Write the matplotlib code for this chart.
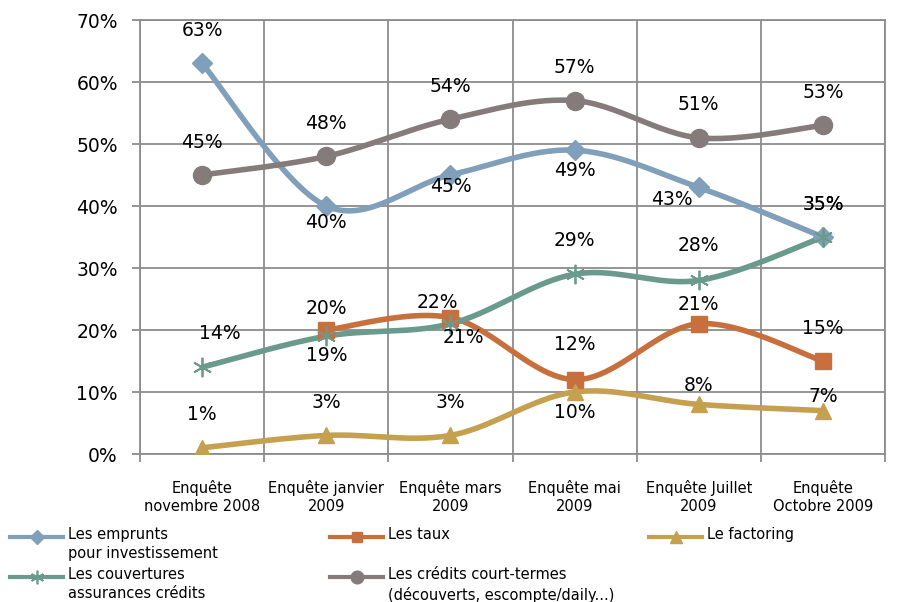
import numpy as np
import matplotlib
matplotlib.use('Agg')
import matplotlib.pyplot as plt
from matplotlib.lines import Line2D

categories = ['Enquête\nnovembre 2008', 'Enquête janvier\n2009', 'Enquête mars\n2009',
              'Enquête mai\n2009', 'Enquête Juillet\n2009', 'Enquête\nOctobre 2009']
emprunts = [0.63, 0.40, 0.45, 0.49, 0.43, 0.35]
taux = [None, 0.20, 0.22, 0.12, 0.21, 0.15]
factoring = [0.01, 0.03, 0.03, 0.10, 0.08, 0.07]
couvertures = [0.14, 0.19, 0.21, 0.29, 0.28, 0.35]
credits = [0.45, 0.48, 0.54, 0.57, 0.51, 0.53]
yticks = [0, 0.1, 0.2, 0.3, 0.4, 0.5, 0.6, 0.7]

grid_c = '#8c8c8c'
c_emp = '#7f9fba'
c_taux = '#c8703d'
c_fact = '#c4a04f'
c_couv = '#6a9a8b'
c_cred = '#857b7a'

W, H = 897, 602


def smooth(xs, ys, n=30):
    # excel-like smoothing: bezier segments with catmull-rom control points
    xs = np.asarray(xs, float)
    ys = np.asarray(ys, float)
    P = np.column_stack([xs, ys])
    out = [P[0]]
    t = np.linspace(0, 1, n)[1:, None]
    for i in range(len(P) - 1):
        p0 = P[i - 1] if i > 0 else P[i]
        p3 = P[i + 2] if i + 2 < len(P) else P[i + 1]
        c1 = P[i] + (P[i + 1] - p0) / 6
        c2 = P[i + 1] - (p3 - P[i]) / 6
        seg = ((1 - t) ** 3) * P[i] + 3 * ((1 - t) ** 2) * t * c1 + 3 * (1 - t) * t ** 2 * c2 + t ** 3 * P[i + 1]
        out.extend(seg)
    out = np.array(out)
    return out[:, 0], out[:, 1]


fig = plt.figure(figsize=(W / 100, H / 100), dpi=100)
ax = fig.add_axes([140 / W, (H - 454) / H, 745 / W, 434 / H])

xc = np.arange(len(categories)) + 0.5
star = (6, 2, 0)

# label offsets in pixels (dx, dy)
series = [
    ('Les emprunts\npour investissement', emprunts, c_emp, 'D', 10,
     [(0, 33), (0, -16), (0, -12), (0, -20), (-27, -12), (0, 32)]),
    ('Les taux', taux, c_taux, 's', 11,
     [None, (0, 21), (-13, 15), (0, 35), (0, 19), (0, 33)]),
    ('Les crédits court-termes\n(découverts, escompte/daily...)', credits, c_cred, 'o', 13,
     [(0, 33)] * 6),
    ('Les couvertures\nassurances crédits', couvertures, c_couv, star, 14,
     [(18, 34), (0, -19), (13, -14), (0, 34), (0, 35), (0, 32)]),
    ('Le factoring', factoring, c_fact, '^', 12,
     [(0, 33), (0, 33), (0, 33), (0, -21), (0, 19), (0, 14)]),
]

styles = {}
for name, vals, col, mk, ms, offs in series:
    pts = [(x, v) for x, v in zip(xc, vals) if v is not None]
    px, py = zip(*pts)
    sx, sy = smooth(px, py)
    ax.plot(sx, sy, color=col, lw=4, solid_capstyle='round', zorder=3)
    ax.plot(px, py, ls='none', marker=mk, ms=ms, color=col, mec=col,
            mew=1.3 if mk == star else 1, zorder=4)
    for x, v, o in zip(xc, vals, offs):
        if v is None:
            continue
        ax.annotate('%d%%' % round(v * 100), (x, v), xytext=o, textcoords='offset pixels',
                    ha='center', va='center', fontsize=13.5, color='black', zorder=6)
    styles[name] = (col, mk, ms)

ax.set_xlim(0, len(categories))
ax.set_ylim(0, 0.7)
ax.set_yticks(yticks)
ax.set_yticklabels(['%d%%' % round(v * 100) for v in yticks], fontsize=13.5)
ax.set_xticks(np.arange(len(categories) + 1))
ax.set_xticklabels([])
ax.set_xticks(xc, minor=True)
ax.set_xticklabels(categories, minor=True, fontsize=10.5, linespacing=1.25)
ax.tick_params(axis='x', which='minor', length=0, pad=19)
ax.tick_params(axis='x', which='major', length=6, color=grid_c, width=1.3)
ax.tick_params(axis='y', length=6, color=grid_c, width=1.3, pad=10)
ax.grid(True, which='major', color=grid_c, lw=1.3)
ax.set_axisbelow(True)
for s in ax.spines.values():
    s.set_color(grid_c)
    s.set_linewidth(1.3)

# legend drawn by hand: 3 columns, handle at first text line
legend_pos = [
    ('Les emprunts\npour investissement', 10, 537),
    ('Les taux', 330, 537),
    ('Le factoring', 649, 537),
    ('Les couvertures\nassurances crédits', 10, 577),
    ('Les crédits court-termes\n(découverts, escompte/daily...)', 330, 577),
]
for name, x0, y0 in legend_pos:
    col, mk, ms = styles[name]
    yf = 1 - y0 / H
    fig.add_artist(Line2D([x0 / W, (x0 + 53) / W], [yf, yf], color=col, lw=3))
    fig.add_artist(Line2D([(x0 + 26.5) / W], [yf], ls='none', marker=mk, ms=ms * 0.7,
                          color=col, mec=col, mew=1.2 if mk == star else 1))
    fig.text((x0 + 58) / W, yf + 10 / H, name, ha='left', va='top', fontsize=10.5,
             linespacing=1.35)

fig.savefig('out.png', dpi=100)
